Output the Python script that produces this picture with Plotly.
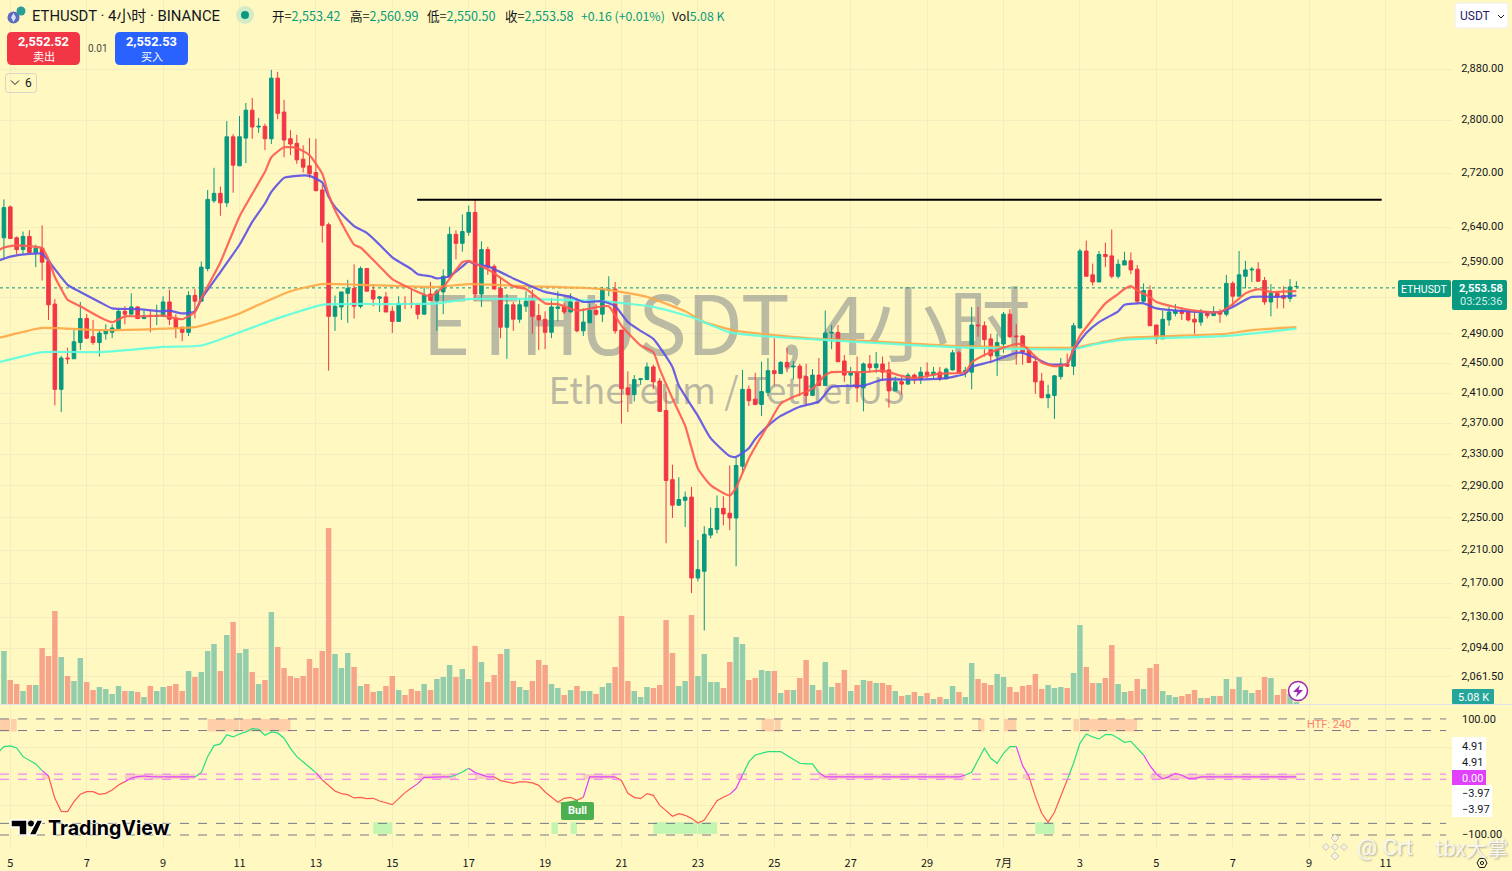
import math
import pandas as pd
import plotly.graph_objects as go

# 4h bars, first one is 06-04 20:00
bar_start = pd.Timestamp("2025-06-04 20:00")

opens = [
    2623,2668,2623,2606,2625,2602,2608,2589,2529,2413,
    2455,2454,2476,2509,2484,2476,2488,2490,2495,2519,
    2515,2525,2509,2513,2512,2512,2532,2509,2497,2490,
    2541,2533,2579,2677,2688,2674,2773,2729,2771,2814,
    2788,2789,2770,2864,2811,2770,2763,2739,2729,2719,
    2693,2642,2512,2525,2544,2551,2526,2579,2548,2537,
    2539,2519,2505,2530,2530,2529,2515,2543,2534,2546,
    2567,2628,2615,2631,2660,2543,2606,2582,2551,2497,
    2528,2508,2526,2533,2513,2508,2490,2523,2525,2518,
    2532,2492,2503,2520,2515,2548,2550,2493,2415,2406,
    2426,2426,2443,2424,2385,2296,2264,2270,2274,2175,
    2183,2227,2234,2260,2254,2248,2313,2413,2400,2393,
    2409,2438,2434,2449,2443,2444,2430,2405,2432,2418,
    2489,2490,2451,2432,2436,2415,2447,2442,2447,2439,
    2411,2423,2420,2432,2426,2436,2432,2436,2427,2439,
    2462,2436,2436,2500,2499,2481,2458,2474,2515,2485,
    2485,2465,2450,2424,2402,2405,2430,2447,2444,2496,
    2604,2570,2560,2599,2597,2568,2584,2590,2578,2533,
    2548,2500,2481,2507,2516,2520,2518,2508,2504,2516,
    2513,2518,2515,2558,2540,2568,2577,2578,2562,2532,
    2544,2541,2537,2553.42,
]
highs = [
    2679,2670,2625,2632,2634,2613,2641,2589,2536,2458,
    2469,2493,2532,2515,2507,2493,2501,2501,2522,2526,
    2544,2526,2520,2520,2528,2540,2549,2515,2497,2547,
    2550,2589,2693,2726,2698,2797,2777,2805,2825,2833,
    2802,2793,2877,2874,2830,2783,2776,2760,2771,2770,
    2701,2645,2541,2546,2563,2585,2582,2579,2557,2540,
    2546,2526,2540,2540,2551,2530,2553,2560,2550,2578,
    2639,2634,2657,2670,2679,2618,2610,2585,2567,2543,
    2532,2537,2547,2549,2529,2519,2537,2547,2530,2544,
    2537,2523,2530,2529,2553,2568,2560,2493,2437,2432,
    2428,2449,2446,2428,2410,2315,2299,2281,2287,2221,
    2238,2261,2276,2275,2314,2324,2439,2418,2435,2450,
    2455,2482,2451,2469,2451,2447,2447,2440,2455,2520,
    2500,2500,2459,2443,2457,2449,2459,2463,2457,2450,
    2430,2430,2435,2434,2443,2449,2443,2443,2442,2466,
    2465,2443,2525,2525,2505,2488,2488,2518,2522,2501,
    2486,2465,2457,2435,2419,2432,2455,2461,2503,2607,
    2619,2586,2604,2616,2635,2592,2603,2602,2584,2558,
    2555,2500,2520,2525,2529,2525,2522,2518,2522,2519,
    2526,2522,2570,2561,2604,2590,2581,2588,2567,2557,
    2544,2554,2564,2560.99,
]
lows = [
    2592,2622,2599,2600,2602,2581,2562,2507,2392,2383,
    2447,2454,2466,2481,2473,2457,2480,2482,2495,2501,
    2515,2508,2508,2490,2500,2512,2500,2482,2478,2485,
    2509,2533,2575,2674,2655,2668,2689,2729,2733,2770,
    2779,2753,2762,2800,2742,2745,2732,2719,2711,2691,
    2616,2438,2492,2507,2503,2509,2523,2547,2526,2518,
    2518,2489,2505,2522,2523,2508,2515,2534,2492,2515,
    2567,2592,2603,2626,2534,2525,2570,2550,2482,2454,
    2492,2503,2518,2488,2466,2467,2482,2505,2515,2518,
    2490,2485,2503,2513,2504,2540,2488,2368,2383,2397,
    2419,2426,2413,2383,2217,2248,2263,2237,2157,2171,
    2113,2223,2229,2239,2233,2189,2304,2391,2392,2378,
    2404,2418,2434,2436,2426,2404,2392,2404,2418,2418,
    2467,2450,2423,2419,2396,2384,2435,2435,2424,2389,
    2411,2406,2419,2420,2420,2427,2427,2424,2427,2438,
    2434,2429,2413,2484,2457,2449,2431,2462,2482,2446,
    2446,2449,2407,2401,2388,2374,2426,2443,2432,2495,
    2568,2555,2560,2581,2565,2565,2584,2571,2529,2530,
    2499,2474,2481,2499,2512,2507,2505,2488,2499,2509,
    2513,2503,2512,2526,2540,2551,2560,2561,2528,2512,
    2523,2523,2532,2550.50,
]
closes = [
    2667,2622,2606,2625,2602,2608,2588,2528,2413,2455,
    2454,2477,2509,2482,2476,2489,2492,2496,2519,2515,
    2525,2509,2513,2512,2513,2532,2508,2496,2490,2541,
    2533,2581,2679,2688,2674,2773,2730,2773,2814,2788,
    2789,2770,2864,2809,2768,2762,2738,2727,2717,2692,
    2641,2512,2526,2546,2551,2526,2579,2547,2536,2539,
    2518,2505,2530,2529,2529,2515,2541,2534,2547,2568,
    2628,2615,2632,2660,2543,2606,2581,2550,2497,2528,
    2508,2528,2533,2512,2507,2490,2525,2525,2518,2532,
    2492,2504,2520,2515,2550,2550,2492,2414,2406,2426,
    2427,2443,2423,2384,2295,2264,2271,2274,2175,2185,
    2228,2235,2260,2253,2248,2314,2413,2398,2393,2410,
    2438,2434,2449,2443,2444,2428,2405,2432,2418,2489,
    2490,2450,2432,2436,2415,2447,2442,2447,2436,2411,
    2423,2420,2432,2426,2436,2432,2436,2427,2440,2462,
    2435,2438,2500,2499,2480,2458,2476,2515,2484,2484,
    2463,2449,2423,2402,2406,2431,2447,2444,2499,2604,
    2568,2560,2599,2596,2568,2585,2590,2577,2533,2548,
    2499,2481,2508,2518,2520,2516,2507,2504,2516,2513,
    2518,2515,2558,2540,2570,2577,2578,2561,2532,2544,
    2539,2537,2553,2553.58,
]
volumes = [
    159,72,60,39,57,57,168,144,279,141,
    84,69,138,66,42,51,45,30,54,39,
    39,36,21,54,39,51,54,60,39,99,
    81,96,159,180,99,207,246,153,165,96,
    60,72,276,171,108,84,78,84,135,108,
    159,528,150,108,153,111,54,60,36,39,
    54,84,42,27,45,39,60,42,75,81,
    117,81,105,75,174,126,66,87,150,165,
    69,51,42,69,132,117,60,48,27,42,
    54,39,39,30,51,63,111,264,69,39,
    21,51,48,57,252,153,54,69,267,84,
    150,66,66,48,126,201,180,72,78,102,
    99,99,33,42,42,78,132,57,42,126,
    51,63,102,39,57,72,69,63,63,57,
    39,24,27,36,24,33,15,21,15,54,
    36,21,123,75,63,57,90,81,51,36,
    54,57,90,45,57,48,51,48,93,237,
    111,63,63,78,177,60,36,39,75,45,
    108,120,39,27,21,24,30,42,18,18,
    24,24,75,45,81,42,33,42,81,78,
    27,45,30,5.08,
]

# moving averages, read at these bar numbers (-1 is the bar just off the left edge)
fast_bars = [-1,0,1,2,6,7,8,9,10,12,15,17,19,21,25,28,30,31,34,37,41,42,44,46,48,50,51,52,55,56,59,61,65,67,69,71,72,73,74,76,80,82,85,87,90,94,95,97,100,102,103,105,107,109,111,114,115,117,120,122,124,127,129,130,135,138,141,143,147,151,152,154,156,159,160,162,163,165,167,168,169,171,173,175,176,177,178,180,181,184,187,191,193,195,197,199,203]
fast_ma = [2604,2609,2611,2612,2608,2592,2567,2550,2535,2526,2511,2504,2512,2512,2513,2508,2518,2537,2588,2654,2720,2742,2757,2756,2745,2717,2686,2663,2613,2609,2582,2564,2546,2540,2553,2577,2588,2590,2586,2578,2554,2550,2530,2529,2520,2526,2526,2499,2472,2463,2440,2401,2365,2310,2289,2276,2286,2323,2366,2394,2403,2414,2432,2436,2436,2438,2431,2428,2434,2436,2449,2459,2466,2474,2473,2457,2449,2444,2447,2467,2485,2508,2530,2543,2550,2554,2548,2539,2532,2525,2520,2518,2529,2544,2550,2546,2547]
slow_bars = [-1,0,1,4,6,7,8,10,12,15,17,21,25,26,28,30,31,34,37,39,41,42,44,46,48,50,51,52,55,57,59,61,64,65,67,68,70,72,73,74,76,80,82,85,89,91,94,96,98,100,102,105,106,109,111,114,115,117,118,120,122,125,128,130,135,138,143,148,151,152,155,159,160,162,164,167,168,170,172,175,176,179,181,186,191,193,196,200,203]
slow_ma = [2590,2593,2596,2600,2600,2590,2578,2556,2546,2532,2523,2522,2519,2520,2516,2519,2536,2574,2613,2646,2673,2690,2711,2714,2714,2704,2683,2668,2640,2630,2613,2595,2578,2571,2568,2565,2568,2582,2589,2585,2582,2565,2557,2546,2539,2532,2533,2526,2504,2492,2481,2443,2418,2378,2349,2326,2325,2336,2348,2365,2378,2390,2397,2416,2418,2426,2426,2428,2434,2443,2450,2462,2462,2455,2447,2447,2466,2489,2504,2519,2528,2530,2523,2519,2518,2525,2539,2539,2541]
orange_bars = [-1,0,6,15,30,34,37,41,45,50,56,68,73,82,94,101,107,110,115,119,128,136,148,168,171,176,192,196,203]
orange_ma = [2482,2484,2496,2493,2497,2507,2516,2532,2547,2557,2556,2553,2557,2554,2550,2539,2519,2504,2492,2488,2481,2478,2472,2469,2474,2482,2488,2493,2497]
cyan_bars = [-1,0,6,15,25,31,37,41,45,50,62,68,73,82,94,102,108,114,119,128,136,148,168,171,176,192,203]
cyan_ma = [2449,2451,2463,2463,2470,2472,2490,2503,2515,2528,2529,2530,2536,2536,2533,2525,2511,2490,2485,2480,2476,2470,2467,2473,2480,2485,2495]

# lower pane oscillator, one value per bar
osc_before_first = 40.8
osc = [
    52.3,53.4,50,35,28.2,22.4,10.9,1.7,-36.8,-59.2,
    -59.8,-42.5,-29.9,-25.3,-25.3,-29.9,-28.2,-22.4,-13.8,-8,
    -1.7,0.6,1.7,0.6,0,0,0,0,0,0,
    0,7.5,35,54,56.9,73,69,74.1,77.6,83.3,
    82.2,71.8,77.6,75.9,66.7,49.4,35,26.4,16.7,7.5,
    -5.2,-14.9,-24.1,-28.7,-30.5,-36.2,-35.1,-37.4,-36.8,-41.4,
    -44.8,-47.7,-37.4,-27,-19,-11.5,-0.6,0,0,0,
    0,3.4,8.6,14.9,7.5,4,0,0,-6.3,-8.6,
    -10.9,-8.6,-8.6,-10.3,-14.4,-25.9,-35.1,-43.7,-36.8,-35.1,
    -40.2,-35.1,0,0,0,0,0,-6.3,-28.2,-35.1,
    -37.4,-28.7,-31.6,-48.9,-58,-67.8,-63.2,-66.1,-71.3,-79.3,
    -74.1,-58,-40.8,-35.1,-29.9,-19.5,3.4,25.9,37.9,40.2,
    43.7,43.7,43.7,36.8,30.5,23.6,22.4,22.4,7.5,0,
    0,0,0,0,0,0,0,0,0,0,
    0,0,0,0,0,0,0,0,0,0,
    0,3.4,8,29.3,49.4,32.2,23.6,40.8,52.3,52.3,
    19.5,0.6,-33.9,-62.6,-78.2,-60.9,-33.9,-5.2,23.6,58,
    74.1,69,65.5,73,73,66.7,59.8,61.5,49.4,37.9,
    19.5,5.2,-3.4,0.6,6.3,2.9,-2.3,-2.3,0,0,
    0,0,0,0,0,0,0,0,0,0,
    0,0,0,0,
]
# colour of the line, last bar of each run
osc_runs = [("g",6),("m",7),("r",19),("m",30),("g",49),("m",50),("r",64),("m",70),("g",73),("m",77),
            ("r",91),("m",96),("r",114),("m",116),("g",128),("m",151),("g",159),("m",161),("r",167),
            ("g",179),("m",203)]

over_zones = [(-1,2),(32,45),(119,122),(153,154),(157,159),(168,178)]
under_zones = [(58,61),(86,87),(89,90),(102,112),(162,165)]
neutral_zones = [(6,7),(19,30),(49,50),(65,71),(74,77),(91,96),(115,116),(128,151),(160,161),(180,203)]

price_ticks = [2880,2800,2720,2640,2590,2540,2490,2450,2410,2370,2330,2290,2250,2210,2170,2130,2094,2061.5]
price_labels = ["2,880.00","2,800.00","2,720.00","2,640.00","2,590.00","","2,490.00","2,450.00","2,410.00","2,370.00",
                "2,330.00","2,290.00","2,250.00","2,210.00","2,170.00","2,130.00","2,094.00","2,061.50"]
date_ticks = ["2025-06-05","2025-06-07","2025-06-09","2025-06-11","2025-06-13","2025-06-15","2025-06-17","2025-06-19",
              "2025-06-21","2025-06-23","2025-06-25","2025-06-27","2025-06-29","2025-07-01","2025-07-03","2025-07-05",
              "2025-07-07","2025-07-09","2025-07-11"]
date_labels = ["5","7","9","11","13","15","17","19","21","23","25","27","29","7月","3","5","7","9","11"]

resistance = 2678.6
last_price = 2553.58

GREEN = "#089981"
RED = "#F23645"
BG = "#FFF8C0"
GRID = "#F3EDC0"
TEXT = "#131722"
FONT = "Roboto, 'Noto Sans CJK SC', sans-serif"
CJK = "'Noto Sans CJK SC', Roboto, sans-serif"

PLOT_W = 1452
PLOT_H = 848


def bar_time(i):
    return bar_start + pd.Timedelta(hours=4) * i


def bar_label(i):
    return bar_time(i).strftime("%Y-%m-%d %H:%M")


def px(x):
    return x / PLOT_W


def py(y):
    return 1 - y / PLOT_H


dates = [bar_label(i) for i in range(len(opens))]
x_left = "2025-06-04 17:32"
x_right = "2025-07-12 17:46"
# grid axis is set from the gridlines, candle axis from the pixel readings of the bars
grid_range = [math.log10(2030.9), math.log10(2992.0)]
price_range = [math.log10(2029.2), math.log10(2989.9)]
main_domain = [1 - 704 / PLOT_H, 1]
lower_domain = [0, 1 - 705 / PLOT_H]

fig = go.Figure()

# watermark sits on the base axis so everything else draws over it
fig.add_trace(go.Scatter(x=["2025-06-23 18:00"], y=[2489], mode="text", text=["ETHUSDT, 4小时"],
                         textfont=dict(size=82, color="rgba(120,123,134,0.5)", family=CJK),
                         yaxis="y", hoverinfo="skip"))
fig.add_trace(go.Scatter(x=["2025-06-23 18:00"], y=[2407], mode="text", text=["Ethereum / TetherUS"],
                         textfont=dict(size=36.7, color="rgba(120,123,134,0.5)", family=CJK),
                         yaxis="y", hoverinfo="skip"))
fig.add_trace(go.Scatter(x=[x_left, x_right], y=[last_price, last_price], mode="lines", yaxis="y",
                         line=dict(color=GREEN, width=1, dash="dot")))

fig.add_trace(go.Bar(x=dates, y=volumes, yaxis="y2", marker_line_width=0,
                     marker_color=["#93CDAB" if c >= o else "#F7A58A" for o, c in zip(opens, closes)]))

fig.add_trace(go.Candlestick(x=dates, open=opens, high=highs, low=lows, close=closes, yaxis="y3",
                             whiskerwidth=0,
                             increasing=dict(line=dict(color=GREEN, width=1), fillcolor=GREEN),
                             decreasing=dict(line=dict(color=RED, width=1), fillcolor=RED)))

for bars, vals, colour in [(orange_bars, orange_ma, "#FFA845"), (cyan_bars, cyan_ma, "#5CFFE0"),
                           (slow_bars, slow_ma, "#5B50E6"), (fast_bars, fast_ma, "#FF5A50")]:
    fig.add_trace(go.Scatter(x=[bar_label(i) for i in bars], y=vals, mode="lines", yaxis="y3",
                             line=dict(color=colour, width=2.2, shape="spline", smoothing=0.5), opacity=0.9))

fig.add_trace(go.Scatter(x=["2025-06-15 15:36", "2025-07-10 21:36"], y=[resistance, resistance], mode="lines",
                         yaxis="y3", line=dict(color="#000000", width=2)))

# oscillator, one trace per colour with gaps between runs
osc_colours = {"g": "#26E07F", "r": "#FF5A50", "m": "#E040FB"}
osc_x = {"g": [bar_label(-1)], "r": [], "m": []}
osc_y = {"g": [osc_before_first], "r": [], "m": []}
run_start = 0
for state, run_end in osc_runs:
    first = max(run_start - 1, 0)
    osc_x[state] += dates[first:run_end + 1] + [None]
    osc_y[state] += osc[first:run_end + 1] + [None]
    run_start = run_end + 1
for state in osc_x:
    fig.add_trace(go.Scatter(x=osc_x[state], y=osc_y[state], mode="lines", yaxis="y4",
                             line=dict(color=osc_colours[state], width=1.2)))

shapes = []


def zone(i0, i1, y0, y1, colour):
    shapes.append(dict(type="rect", xref="x", yref="y4", x0=bar_time(i0), x1=bar_time(i1), y0=y0, y1=y1,
                       fillcolor=colour, line_width=0, layer="below"))


for i0, i1 in over_zones:
    zone(i0, i1, 78.5, 100, "#FFCFA8")
for i0, i1 in under_zones:
    zone(i0, i1, -98, -78, "#C2F5B2")
for i0, i1 in neutral_zones:
    zone(i0, i1, -3.97, 4.91, "#F8D0C0")


def hline(val, colour):
    shapes.append(dict(type="line", xref="paper", yref="y4", x0=0, x1=0.996, y0=val, y1=val,
                       line=dict(color=colour, width=1, dash="dash")))


for val in [100, 80, -80, -100]:
    hline(val, "#787B86")
for val in [4.91, -3.97]:
    hline(val, "#F06CFB")


def round_rect(x0, y0, x1, y1, r, fill, line=None, width=0):
    path = (f"M {px(x0+r)} {py(y0)} L {px(x1-r)} {py(y0)} Q {px(x1)} {py(y0)} {px(x1)} {py(y0+r)} "
            f"L {px(x1)} {py(y1-r)} Q {px(x1)} {py(y1)} {px(x1-r)} {py(y1)} "
            f"L {px(x0+r)} {py(y1)} Q {px(x0)} {py(y1)} {px(x0)} {py(y1-r)} "
            f"L {px(x0)} {py(y0+r)} Q {px(x0)} {py(y0)} {px(x0+r)} {py(y0)} Z")
    shapes.append(dict(type="path", xref="paper", yref="paper", path=path, fillcolor=fill,
                       line=dict(color=line or fill, width=width)))


def circle(cx, cy, r, fill, line=None, width=0):
    shapes.append(dict(type="circle", xref="paper", yref="paper", x0=px(cx - r), x1=px(cx + r),
                       y0=py(cy + r), y1=py(cy - r), fillcolor=fill, line=dict(color=line or fill, width=width)))


def poly(points, fill=None, line=None, width=1, closed=True):
    d = "M " + " L ".join(f"{px(x)} {py(y)}" for x, y in points) + (" Z" if closed else "")
    shapes.append(dict(type="path", xref="paper", yref="paper", path=d, fillcolor=fill or "rgba(0,0,0,0)",
                       line=dict(color=line or "rgba(0,0,0,0)", width=width)))


def diamond(cx, cy, r, fill, line):
    poly([(cx, cy - r), (cx + r, cy), (cx, cy + r), (cx - r, cy)], fill=fill, line=line, width=1)


# pane separator
poly([(0, 704.5), (1512, 704.5)], line="#E0E3EB", width=1, closed=False)

# symbol logo and market dot
circle(13.5, 17.5, 6, "#5A6BC0")
circle(21, 11, 4.5, "#2A9D96")
poly([(13.5, 13), (16, 17.5), (13.5, 22), (11, 17.5)], fill="#DDE0F5")
circle(245, 15, 9, "#D4EBC8")
circle(245, 15, 4, GREEN)

# sell / buy buttons, collapse, currency
round_rect(7, 32, 80, 65, 5, "#F23645")
round_rect(115, 32, 188, 65, 5, "#2962FF")
round_rect(5.5, 73.5, 36.5, 92.5, 3, "rgba(0,0,0,0)", line="#D5D5CC", width=1)
poly([(11, 80.5), (15, 84.5), (19, 80.5)], line=TEXT, width=1, closed=False)
round_rect(1455, 3, 1508, 28, 3, "#FFFFFF", line="#EEEEEE", width=1)
poly([(1498, 15), (1501, 18), (1504, 15)], line=TEXT, width=1, closed=False)

# right hand labels
round_rect(1398, 280, 1451, 297, 2, GREEN)
round_rect(1452, 280, 1507, 310, 2, GREEN)
round_rect(1452, 689, 1494, 704, 1, "#26A69A")
shapes.append(dict(type="rect", xref="paper", yref="paper", x0=px(1452), x1=px(1486), y0=py(770), y1=py(737),
                   fillcolor="#FFFFFF", line_width=0))
shapes.append(dict(type="rect", xref="paper", yref="paper", x0=px(1452), x1=px(1486), y0=py(785), y1=py(770),
                   fillcolor="#E040FB", line_width=0))
shapes.append(dict(type="rect", xref="paper", yref="paper", x0=px(1452), x1=px(1492), y0=py(817), y1=py(785),
                   fillcolor="#FFFFFF", line_width=0))

# Bull tag
round_rect(561, 802, 594, 820, 2, "#4CAF50")
poly([(558, 803), (578, 800), (578, 806)], fill="#4CAF50")

# TradingView mark
poly([(11, 820), (27, 820), (27, 835), (19, 835), (19, 827), (11, 827)], fill="#000000", line="#FFFFFF", width=1.5)
circle(31, 823.5, 3.6, "#000000", line="#FFFFFF", width=1)
poly([(37, 820), (43, 820), (36, 835), (29, 835)], fill="#000000", line="#FFFFFF", width=1.5)

# replay button
circle(1298, 691, 9.5, "#FFFFFF", line="#9C27B0", width=1.5)
poly([(1300, 685), (1293, 692), (1297.5, 692), (1296, 697), (1303, 690), (1298.5, 690)], fill="#9C27B0")

# gear in the corner
poly([(1477, 863), (1479.5, 858.5), (1484.5, 858.5), (1487, 863), (1484.5, 867.5), (1479.5, 867.5)],
     line=TEXT, width=1)
circle(1482, 863, 1.6, "rgba(0,0,0,0)", line=TEXT, width=1)

# reposter logo
for cx, cy, r in [(1335, 838, 4), (1335, 856, 4), (1326, 847, 3.5), (1344, 847, 3.5), (1335, 847, 3.5)]:
    diamond(cx, cy, r, "#F6F2DC", "#C8C8BC")

annotations = []


def label(x, y, text, size=11, colour=TEXT, anchor="left", family=FONT, **kw):
    annotations.append(dict(xref="paper", yref="paper", x=px(x), y=py(y), text=text, showarrow=False,
                            xanchor=anchor, yanchor="middle", align=anchor,
                            font=dict(size=size, color=colour, family=family, **kw)))


def g(text):
    return f"<span style='color:{GREEN}'>{text}</span>"


label(30, 15.5, "ETHUSDT · 4小时 · BINANCE", size=14.9, family=FONT)
label(270, 15.5, f"开={g('2,553.42')}", size=12.6, family=CJK)
label(348, 15.5, f"高={g('2,560.99')}", size=12.6, family=CJK)
label(425, 15.5, f"低={g('2,550.50')}", size=12.6, family=CJK)
label(503, 15.5, f"收={g('2,553.58')}", size=12.6, family=CJK)
label(579, 15.5, g("+0.16 (+0.01%)"), size=12.3, family=CJK)
label(670, 15.5, f"Vol{g('5.08 K')}", size=12.3, family=CJK)
label(43.5, 41.5, "<b>2,552.52</b>", size=12.8, colour="#FFFFFF", anchor="center")
label(43.5, 56, "卖出", size=11, colour="#FFFFFF", anchor="center", family=CJK)
label(151.5, 41.5, "<b>2,552.53</b>", size=12.8, colour="#FFFFFF", anchor="center")
label(151.5, 56, "买入", size=11, colour="#FFFFFF", anchor="center", family=CJK)
label(97.5, 48.5, "0.01", size=10, colour="#4A4A4A", anchor="center")
label(28, 83, "6", size=12, colour=TEXT, anchor="center")
label(1458, 15.5, "USDT", size=12, colour="#2A1A6A")
label(1424.5, 289, "ETHUSDT", size=10.5, colour="#FFFFFF", anchor="center")
label(1481, 288.5, "<b>2,553.58</b>", size=11, colour="#FFFFFF", anchor="center")
label(1481, 301, "03:25:36", size=11, colour="#D5EFE8", anchor="center")
label(1473, 697, "5.08 K", size=11, colour="#FFFFFF", anchor="center")
label(1460, 719, "100.00", size=11)
label(1460, 746, "4.91", size=11)
label(1460, 762, "4.91", size=11)
label(1460, 778, "0.00", size=11, colour="#FFFFFF")
label(1460, 793, "−3.97", size=11)
label(1460, 809, "−3.97", size=11)
label(1460, 834, "−100.00", size=11)
label(1305, 724, "HTF: 240", size=11, colour="#FF7F70")
label(577.5, 810, "<b>Bull</b>", size=11, colour="#FFFFFF", anchor="center")
label(46, 828, "<b>TradingView</b>", size=19.6, colour="#000000", family="Inter, sans-serif",
      shadow="0 0 3px #FFFFFF, 0 0 3px #FFFFFF")
label(1355, 847, "@ Crt", size=22.5, colour="rgba(255,255,255,0.85)", shadow="1px 1px 2px #9A9A90")
label(1433, 847, "tbx大掌", size=21, colour="rgba(255,255,255,0.85)", family=CJK, shadow="1px 1px 2px #9A9A90")

fig.update_layout(
    width=1512,
    height=871,
    paper_bgcolor=BG,
    plot_bgcolor=BG,
    margin=dict(l=0, r=60, t=0, b=23, pad=0),
    showlegend=False,
    bargap=0.14,
    boxgap=0.2,
    font=dict(family=FONT, size=11, color=TEXT),
    shapes=shapes,
    annotations=annotations,
    xaxis=dict(type="date", range=[x_left, x_right], anchor="y4", tickmode="array", tickvals=date_ticks,
               ticktext=date_labels, tickfont=dict(size=11, color=TEXT, family=CJK), showgrid=True, gridcolor=GRID,
               gridwidth=1, ticks="outside", ticklen=5, tickcolor="rgba(0,0,0,0)", showline=False, zeroline=False,
               rangeslider=dict(visible=False), fixedrange=True),
    yaxis=dict(type="log", range=grid_range, domain=main_domain, fixedrange=True, side="right", anchor="x",
               tickmode="array", tickvals=price_ticks, ticktext=price_labels, ticklabelshift=-1,
               tickfont=dict(size=11, color=TEXT), showgrid=True, gridcolor=GRID, ticks="outside", ticklen=6,
               tickcolor="rgba(0,0,0,0)", showline=False, zeroline=False),
    yaxis2=dict(overlaying="y", domain=main_domain, range=[0, 2112], visible=False, fixedrange=True),
    yaxis3=dict(type="log", range=price_range, domain=main_domain, fixedrange=True, overlaying="y", visible=False),
    yaxis4=dict(domain=lower_domain, range=[-122.4, 124], side="right", anchor="x", tickmode="array",
                tickvals=[-50, 50], ticktext=["", ""], showgrid=True, gridcolor=GRID, zeroline=False,
                showline=False, fixedrange=True),
)

# drop the browser's default page margin so the chart fills the window
fig.write_html("out.html", config=dict(displayModeBar=False),
               post_script="document.body.style.margin='0';document.documentElement.style.overflow='hidden';")
